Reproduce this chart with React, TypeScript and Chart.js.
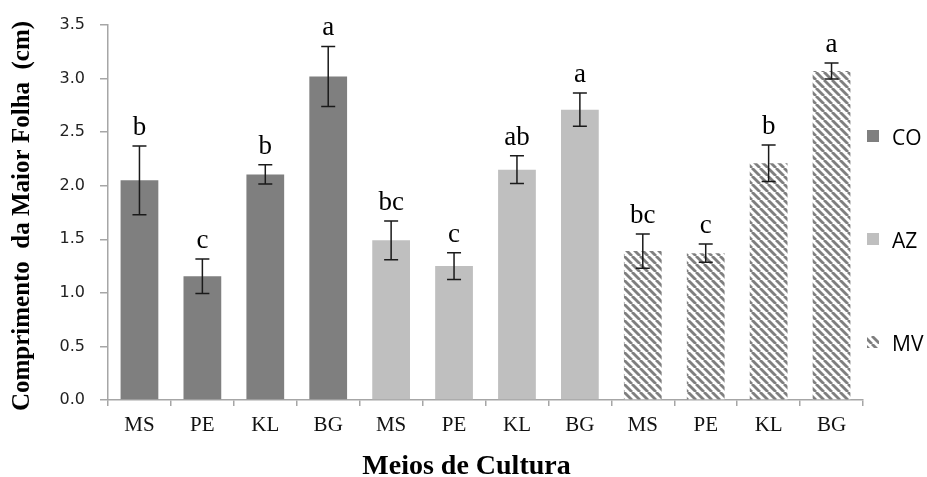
import { useEffect, useRef } from "react";
import { Chart, registerables } from "chart.js";

Chart.register(...registerables);

const categories = ["MS", "PE", "KL", "BG", "MS", "PE", "KL", "BG", "MS", "PE", "KL", "BG"];
const seriesNames = ["CO", "AZ", "MV"];
const coValues = [2.05, 1.155, 2.105, 3.02];
const azValues = [1.49, 1.25, 2.15, 2.71];
const mvValues = [1.39, 1.37, 2.21, 3.07];
const coErrors = [0.32, 0.16, 0.09, 0.28];
const azErrors = [0.18, 0.125, 0.13, 0.155];
const mvErrors = [0.16, 0.085, 0.17, 0.075];
const coLetters = ["b", "c", "b", "a"];
const azLetters = ["bc", "c", "ab", "a"];
const mvLetters = ["bc", "c", "b", "a"];
const yMin = 0;
const yMax = 3.5;
const yStep = 0.5;
const xTitle = "Meios de Cultura";
const yTitle = "Comprimento  da Maior Folha  (cm)";

const GROUP = 4;

function place(values: number[], groupIndex: number): (number | null)[] {
  const out: (number | null)[] = categories.map(() => null);
  values.forEach((v, i) => {
    out[groupIndex * GROUP + i] = v;
  });
  return out;
}

function makeHatch(): CanvasPattern | string {
  const p = 8;
  const c = document.createElement("canvas");
  c.width = p;
  c.height = p;
  const g = c.getContext("2d");
  if (!g) return "#7f7f7f";
  g.fillStyle = "#ffffff";
  g.fillRect(0, 0, p, p);
  g.strokeStyle = "#7f7f7f";
  g.lineWidth = 2.8;
  for (let k = -1; k <= 1; k++) {
    g.beginPath();
    g.moveTo(k * p, 0);
    g.lineTo(k * p + p, p);
    g.stroke();
  }
  const pat = g.createPattern(c, "repeat");
  return pat || "#7f7f7f";
}

export default function App() {
  const ref = useRef<HTMLCanvasElement | null>(null);

  useEffect(() => {
    const canvas = ref.current;
    if (!canvas) return;
    const hatch = makeHatch();
    const colors: (string | CanvasPattern)[] = ["#7f7f7f", "#bfbfbf", hatch];
    const allValues = [coValues, azValues, mvValues];
    const allErrors = [coErrors, azErrors, mvErrors];
    const allLetters = [coLetters, azLetters, mvLetters];

    const errorPlugin = {
      id: "errorBarsLetters",
      afterDatasetsDraw(chart: any) {
        const ctx = chart.ctx as CanvasRenderingContext2D;
        const ys = chart.scales.y;
        ctx.save();
        allValues.forEach((vals, di) => {
          const meta = chart.getDatasetMeta(di);
          vals.forEach((v, j) => {
            const el = meta.data[di * GROUP + j];
            if (!el) return;
            const x = el.x;
            const e = allErrors[di][j];
            const yt = ys.getPixelForValue(v + e);
            const yb = ys.getPixelForValue(v - e);
            ctx.strokeStyle = "#1a1a1a";
            ctx.lineWidth = 1.5;
            ctx.beginPath();
            ctx.moveTo(x, yt);
            ctx.lineTo(x, yb);
            ctx.moveTo(x - 7, yt);
            ctx.lineTo(x + 7, yt);
            ctx.moveTo(x - 7, yb);
            ctx.lineTo(x + 7, yb);
            ctx.stroke();
            ctx.fillStyle = "#000";
            ctx.font = '27px "Liberation Serif"';
            ctx.textAlign = "center";
            ctx.textBaseline = "alphabetic";
            ctx.fillText(allLetters[di][j], x, yt - 11);
          });
        });
        ctx.restore();
      },
      afterDraw(chart: any) {
        const ctx = chart.ctx as CanvasRenderingContext2D;
        ctx.save();
        ctx.fillStyle = "#000";
        ctx.font = 'bold 28px "Liberation Serif"';
        ctx.textAlign = "center";
        ctx.textBaseline = "alphabetic";
        ctx.fillText(xTitle, chart.width / 2 + 3, 474);
        ctx.translate(23, 216);
        ctx.rotate(-Math.PI / 2);
        ctx.font = 'bold 25px "Liberation Serif"';
        ctx.textBaseline = "middle";
        ctx.fillText(yTitle, 0, 0);
        ctx.restore();

        ctx.save();
        const lx = 867;
        const ly0 = 136;
        const gap = 103;
        seriesNames.forEach((name, i) => {
          const cy = ly0 + i * gap;
          ctx.fillStyle = colors[i] as any;
          ctx.fillRect(lx, cy - 6, 12, 12);
          ctx.fillStyle = "#000";
          ctx.font = '21px "Open Sans"';
          ctx.textAlign = "left";
          ctx.textBaseline = "middle";
          ctx.fillText(name, lx + 25, cy + 3);
        });
        ctx.restore();
      },
    };

    const chart = new Chart(canvas, {
      type: "bar",
      data: {
        labels: categories,
        datasets: allValues.map((vals, i) => ({
          label: seriesNames[i],
          data: place(vals, i),
          backgroundColor: colors[i] as any,
          borderWidth: 0,
          grouped: false,
          categoryPercentage: 1,
          barPercentage: 0.6,
        })),
      },
      options: {
        responsive: false,
        animation: false,
        layout: { padding: { top: 25, right: 64, left: 0, bottom: 0 } },
        plugins: {
          legend: { display: false },
          tooltip: { enabled: false },
        },
        scales: {
          x: {
            grid: {
              drawOnChartArea: false,
              drawTicks: true,
              tickLength: 6,
              color: "#a6a6a6",
              lineWidth: 1.5,
              offset: true,
            },
            border: { color: "#a6a6a6", width: 1.5 },
            ticks: {
              color: "#111",
              font: { family: '"Liberation Serif"', size: 21 },
              padding: 7,
              maxRotation: 0,
              autoSkip: false,
            },
            afterFit(scale: any) {
              scale.height = 77;
            },
          },
          y: {
            min: yMin,
            max: yMax,
            grid: {
              drawOnChartArea: false,
              drawTicks: true,
              tickLength: 8,
              color: "#a6a6a6",
              lineWidth: 1.5,
            },
            border: { color: "#a6a6a6", width: 1.5 },
            ticks: {
              stepSize: yStep,
              color: "#222",
              font: { family: '"DejaVu Sans"', size: 16 },
              padding: 15,
              callback: (v: any) => Number(v).toFixed(1),
            },
            afterFit(scale: any) {
              scale.width = 108;
            },
          },
        },
      },
      plugins: [errorPlugin],
    });

    return () => chart.destroy();
  }, []);

  return (
    <div style={{ position: "fixed", left: 0, top: 0, width: 927, height: 477, background: "#fff" }}>
      <canvas ref={ref} width={927} height={477} style={{ display: "block" }} />
    </div>
  );
}
